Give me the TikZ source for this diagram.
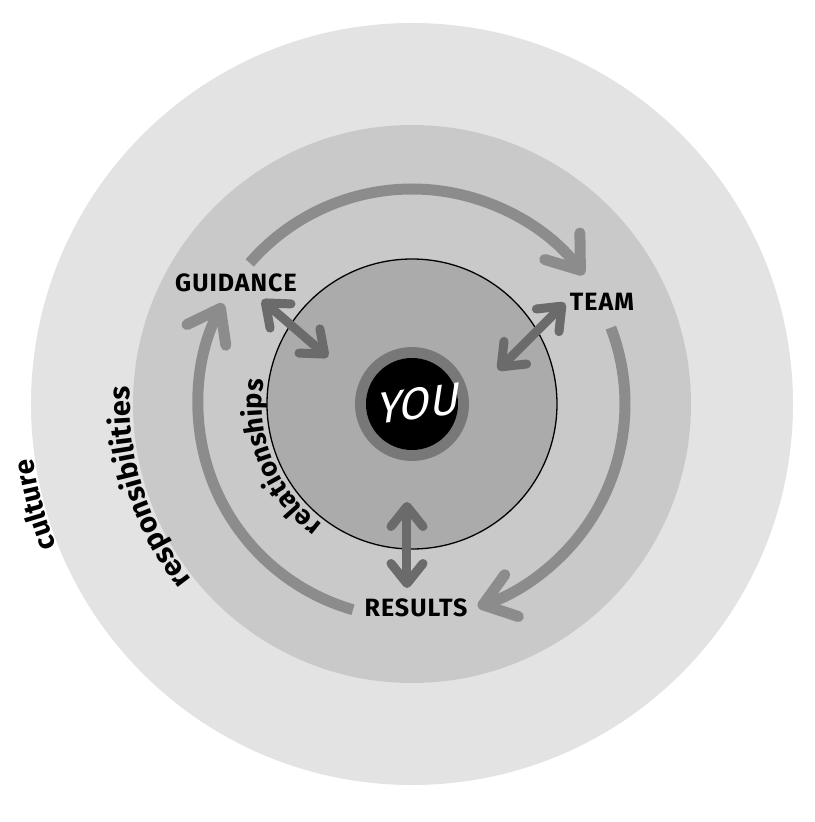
\documentclass[tikz,border=0pt]{standalone}
\usepackage{fontspec}
\setmainfont{Fira Sans}
\newfontfamily\capfont[LetterSpace=4]{Fira Sans}
\newfontfamily\ringfont[LetterSpace=6]{Fira Sans}
\newfontfamily\youfont[FakeSlant=0.3]{Fira Sans}
\usetikzlibrary{arrows.meta,decorations.text}
\definecolor{gcult}{gray}{0.89}
\definecolor{gresp}{gray}{0.79}
\definecolor{grel}{gray}{0.67}
\definecolor{gring}{gray}{0.47}
\definecolor{gcyc}{gray}{0.55}
\definecolor{gdbl}{gray}{0.42}
\tikzset{%
    cyc/.style={line width=11pt, draw=gcyc, -{Straight Barb[round,length=30pt,width=44pt]}},
    dbl/.style={line width=9pt, draw=gdbl, {Straight Barb[round,length=20pt,width=32pt]}-{Straight Barb[round,length=20pt,width=32pt]}},
    lbl/.style={font=\capfont\bfseries\fontsize{25}{25}\selectfont, inner sep=0pt},
    curv/.style 2 args={decorate, decoration={text along path, text align=center, text={|\ringfont\bfseries\fontsize{#2}{#2}\selectfont|#1}}}
}
\begin{document}
\begin{tikzpicture}[x=1pt,y=1pt]
    \useasboundingbox (-412,-418) rectangle (402,404);
    \coordinate (O) at (0,0);
    % rings
    \fill[gcult] (O) circle (381);
    \fill[gresp] (O) circle (279);
    \filldraw[fill=grel, draw=black, line width=1.3pt] (O) circle (145);
    \fill[gring] (O) circle (57);
    \fill[black] (O) circle (46);
    % ring names
    \path[curv={relationships}{27}] (247:150) arc[start angle=247, end angle=157, radius=150];
    \path[curv={responsibilities}{29}] (234:282) arc[start angle=234, end angle=161, radius=282];
    \path[curv={culture}{28}] (214:383) arc[start angle=214, end angle=176, radius=383];
    % cycle
    \draw[cyc] (139:215) arc[start angle=139, end angle=37, radius=215];
    \draw[cyc] (21:213) arc[start angle=21, end angle=-72, radius=213];
    \draw[cyc] (254:214) arc[start angle=254, end angle=152, radius=214];
    % labels
    \node[lbl] (guid) at (-176,121) {GUIDANCE};
    \node[lbl] (team) at (190,102) {TEAM};
    \node[lbl] (res) at (4,-204) {RESULTS};
    \node[text=white, font=\youfont\fontsize{44}{44}\selectfont, rotate=8] (you) at (3,0) {YOU};
    % links to you
    \coordinate (g1) at (-150,104); \coordinate (g2) at (-84,47);
    \coordinate (t1) at (153,101); \coordinate (t2) at (86,34);
    \coordinate (r1) at (-5,-98); \coordinate (r2) at (-5,-184);
    \draw[dbl] (g1)--(g2);
    \draw[dbl] (t1)--(t2);
    \draw[dbl] (r1)--(r2);
\end{tikzpicture}
\end{document}
